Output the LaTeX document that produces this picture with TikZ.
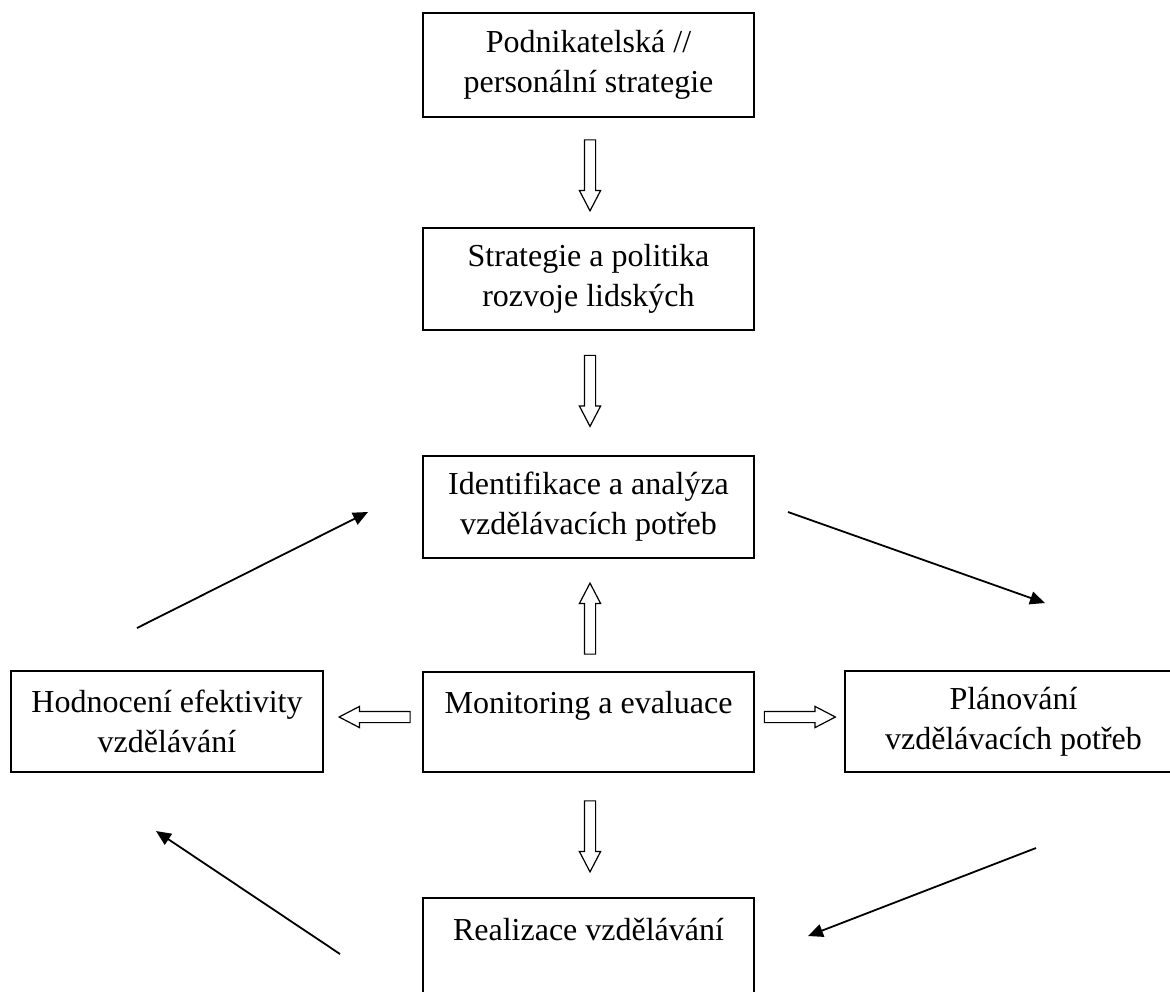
\documentclass[tikz,border=0pt]{standalone}
\usepackage{fontspec}
\setmainfont{Liberation Serif}
\usepackage{tikz}
\usetikzlibrary{shapes,arrows,positioning,calc,arrows.meta}

\begin{document}
\begin{tikzpicture}[
    x=0.5pt, y=-0.5pt,
    box/.style={draw, line width=0.75pt, align=center, inner sep=0pt,
        font=\fontsize{16}{20}\selectfont, minimum width=165.5pt, minimum height=51pt},
    blockarrow/.style={single arrow, draw, fill=white, line width=0.6pt, inner sep=2.5pt,
        minimum width=10pt, single arrow head extend=2.5pt, single arrow tip angle=55,
        minimum height=35.5pt},
    flow/.style={-{Triangle[length=7.5pt,width=6.5pt]}, line width=0.9pt}
]
    \useasboundingbox (0,0) rectangle (1170,991);
    \clip (0,0) rectangle (1170,991);

    % main column
    \node[box, minimum height=52pt] (strat) at (588.5,65) {Podnikatelská //\\personální strategie};
    \node[box] (hrd) at (588.5,279) {Strategie a politika\\rozvoje lidských};
    \node[box] (ident) at (588.5,507) {Identifikace a analýza\\vzdělávacích potřeb};
    \node[box, minimum height=50pt] (monitor) at (588.5,722) {Monitoring a evaluace\\~};
    \node[box] (real) at (588.5,949) {Realizace vzdělávání\\~};

    % side boxes
    \node[box, minimum width=156pt, minimum height=50.5pt] (eval) at (167,721.5) {Hodnocení efektivity\\vzdělávání};
    \node[box, minimum width=168.5pt, minimum height=50.5pt] (plan) at (1013.5,721.5) {Plánování\\vzdělávacích potřeb};

    % block arrows
    \node[blockarrow, shape border rotate=270] (a1) at (590,170) {};
    \node[blockarrow, shape border rotate=270] (a2) at (590,385.5) {};
    \node[blockarrow, shape border rotate=90] (a3) at (590,624) {};
    \node[blockarrow, shape border rotate=180] (a4) at (380,717) {};
    \node[blockarrow] (a5) at (794.5,717) {};
    \node[blockarrow, shape border rotate=270] (a6) at (590,831) {};

    % cycle arrows
    \coordinate (c1) at (788,512);
    \coordinate (c2) at (1045,603);
    \coordinate (c3) at (1036,848);
    \coordinate (c4) at (808,936);
    \coordinate (c5) at (340,954);
    \coordinate (c6) at (156,831);
    \coordinate (c7) at (137,628);
    \coordinate (c8) at (368,512);
    \draw[flow] (c1) -- (c2);
    \draw[flow] (c3) -- (c4);
    \draw[flow] (c5) -- (c6);
    \draw[flow] (c7) -- (c8);
\end{tikzpicture}
\end{document}
